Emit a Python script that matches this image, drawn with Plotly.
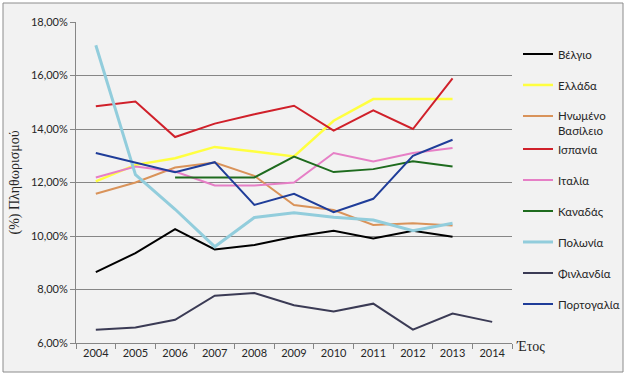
import plotly.graph_objects as go

years = ["2004", "2005", "2006", "2007", "2008", "2009", "2010", "2011", "2012", "2013", "2014"]

belgium = [8.65, 9.36, 10.26, 9.5, 9.66, 9.97, 10.2, 9.91, 10.2, 9.97, None]
greece = [12.04, 12.66, 12.91, 13.33, 13.16, 12.97, 14.31, 15.12, 15.12, 15.12, None]
uk = [11.58, 12.0, 12.56, 12.75, 12.25, 11.16, 10.97, 10.41, 10.48, 10.39, None]
spain = [14.85, 15.03, 13.7, 14.2, 14.55, 14.87, 13.94, 14.7, 14.0, 15.89, None]
italy = [12.19, 12.6, 12.41, 11.89, 11.89, 12.0, 13.1, 12.79, 13.1, 13.29, None]
canada = [None, None, 12.19, 12.19, 12.19, 12.97, 12.39, 12.5, 12.79, 12.6, None]
poland = [17.13, 12.29, 11.0, 9.6, 10.69, 10.87, 10.7, 10.6, 10.2, 10.48, None]
finland = [6.5, 6.58, 6.87, 7.77, 7.87, 7.41, 7.18, 7.47, 6.5, 7.1, 6.79]
portugal = [13.1, 12.73, 12.38, 12.76, 11.16, 11.58, 10.89, 11.39, 13.0, 13.6, None]

y_ticks = [6, 8, 10, 12, 14, 16, 18]
y_tick_labels = ["6,00%", "8,00%", "10,00%", "12,00%", "14,00%", "16,00%", "18,00%"]

series = [
    ("Βέλγιο", belgium, "#000000", 2, "legend"),
    ("Ελλάδα", greece, "#ffff40", 2.5, "legend"),
    ("Ηνωμένο<br>Βασίλειο", uk, "#d9935a", 2, "legend"),
    ("Ισπανία", spain, "#d0202a", 2, "legend2"),
    ("Ιταλία", italy, "#e67fc6", 2, "legend2"),
    ("Καναδάς", canada, "#1e6b1e", 2, "legend2"),
    ("Πολωνία", poland, "#92cddc", 3, "legend2"),
    ("Φινλανδία", finland, "#3b3b55", 2, "legend2"),
    ("Πορτογαλία", portugal, "#1f3d99", 2, "legend2"),
]

fig = go.Figure()
for i, (name, vals, color, w, leg) in enumerate(series):
    fig.add_trace(go.Scatter(
        x=years, y=vals, name=name, mode="lines",
        line=dict(color=color, width=w),
        legendgroup=f"g{i}", legend=leg,
    ))

L, R, T, B = 76, 115, 22, 36
W, H = 627, 379
pw, ph = W - L - R, H - T - B

def px_x(p):
    return (p - L) / pw

def px_y(p):
    return (H - B - p) / ph

fig.add_shape(type="rect", xref="paper", yref="paper",
              x0=px_x(3), x1=px_x(623), y0=px_y(372), y1=px_y(3),
              fillcolor="#f2f2f2", line=dict(color="#8c8c8c", width=1),
              layer="below")

legend_style = dict(
    x=px_x(518), xanchor="left", yanchor="top",
    bgcolor="rgba(0,0,0,0)", tracegroupgap=12, valign="top",
    font=dict(family="Lato", size=11.5, color="#262626"),
    itemwidth=30,
)

fig.update_layout(
    width=W, height=H,
    margin=dict(l=L, r=R, t=T, b=B, autoexpand=False),
    paper_bgcolor="white",
    plot_bgcolor="rgba(0,0,0,0)",
    font=dict(family="Lato", size=11, color="#262626"),
    showlegend=True,
    legend=dict(y=px_y(40), **legend_style),
    legend2=dict(y=px_y(135), **legend_style),
    xaxis=dict(
        type="category", range=[-0.5, 10.5], automargin=False,
        showgrid=False, showline=True, linecolor="#868686", linewidth=1,
        ticks="outside", tickson="boundaries", ticklen=5, tickcolor="#868686",
        tickfont=dict(family="Lato", size=11, color="#262626"),
        zeroline=False,
    ),
    yaxis=dict(
        range=[6, 18], tickvals=y_ticks, ticktext=y_tick_labels, automargin=False,
        showgrid=True, gridcolor="#868686", gridwidth=1,
        showline=True, linecolor="#868686", linewidth=1,
        ticks="outside", ticklen=5, tickcolor="#868686",
        tickfont=dict(family="Lato", size=11, color="#262626"),
        zeroline=False,
    ),
    annotations=[
        dict(
            text="Έτος", xref="paper", yref="paper", x=1.0, y=0.0,
            xanchor="left", yanchor="middle", yshift=-3, xshift=2, showarrow=False,
            font=dict(family="Liberation Serif", size=14, color="#262626"),
        ),
        dict(
            text="(%) Πληθωρισμού", xref="paper", yref="paper", x=px_x(14), y=0.5,
            xanchor="center", yanchor="middle", textangle=-90, showarrow=False,
            font=dict(family="Liberation Serif", size=14, color="#262626"),
        ),
    ],
)

fig.write_html("out.html", config={"displayModeBar": False},
               post_script="document.body.style.margin='0';")
